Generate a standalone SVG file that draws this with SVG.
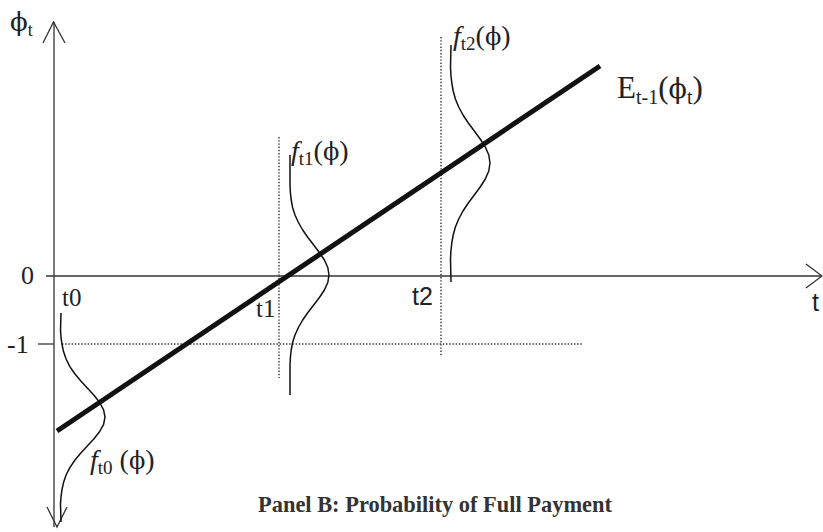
<svg xmlns="http://www.w3.org/2000/svg" width="823" height="532" viewBox="0 0 823 532">
<style>
.ax{stroke:#333;stroke-width:1.3;fill:none}
.dot{stroke:#333;stroke-width:1.4;stroke-dasharray:1.4 1.8;fill:none}
.bell{stroke:#111;stroke-width:1.5;fill:none;stroke-linejoin:round}
.lbl{font-family:"Liberation Serif","DejaVu Serif",serif;fill:#222}
.sans{font-family:"Liberation Sans",Arial,sans-serif;fill:#222}
.phi{font-family:"DejaVu Serif",serif}
</style>
<rect width="823" height="532" fill="#fff"/>
<g id="axes">
<path class="ax" d="M54,22 V527"/>
<path class="ax" d="M43,43 L53.5,22 L65,43"/>
<path class="ax" d="M47,507 L57,527 L67,507"/>
<path class="ax" d="M46,276 H821"/>
<path class="ax" d="M806,264 L822,276 L806,288"/>
<path class="ax" d="M38,344 H54"/>
</g>
<g id="guides">
<path class="dot" d="M62,344 H582"/>
<path class="dot" d="M279,137 V378"/>
<path class="dot" d="M441,37 V357"/>
</g>
<g id="expectation">
<path d="M57,431 L600,66" stroke="#111" stroke-width="5" fill="none"/>
<text class="lbl" x="617" y="98" font-size="31">E<tspan font-size="20" dy="6">t-1</tspan><tspan dy="-6">(</tspan><tspan class="phi" font-size="27">ϕ</tspan><tspan font-size="20" dy="6">t</tspan><tspan dy="-6">)</tspan></text>
</g>
<g id="density-t0">
<path class="bell" d="M61,313 L60.5,330 L61,337.3 L62,344.5 L63.6,351.8 L66.1,359 L69.7,366.3 L74.6,373.5 L80.6,380.8 L87.3,388 L94,395.3 L99.7,402.5 L103.6,409.8 L105,417 L103.6,424.3 L99.7,431.5 L94,438.8 L87.3,446 L80.6,453.3 L74.6,460.5 L69.7,467.8 L66.1,475 L63.6,482.3 L62,489.5 L61,496.8 L60.5,504 L61,522"/>
<text class="lbl" x="90" y="469" font-size="28"><tspan font-style="italic">f</tspan><tspan font-size="19" dy="5">t0</tspan><tspan dy="-5"> (</tspan><tspan class="phi" font-size="24">ϕ</tspan><tspan>)</tspan></text>
</g>
<g id="density-t1">
<path class="bell" d="M290,155 L290,185 L290.4,192.5 L291.2,200 L292.6,207.5 L295,215 L298.4,222.5 L302.7,230 L307.9,237.5 L313.7,245 L319.4,252.5 L324.4,260 L327.8,267.5 L329,275 L327.8,282.5 L324.4,290 L319.4,297.5 L313.7,305 L307.9,312.5 L302.7,320 L298.4,327.5 L295,335 L292.6,342.5 L291.2,350 L290.4,357.5 L290,365 L290,395"/>
<text class="lbl" x="291" y="160" font-size="28"><tspan font-style="italic">f</tspan><tspan font-size="19" dy="5">t1</tspan><tspan dy="-5">(</tspan><tspan class="phi" font-size="24">ϕ</tspan><tspan>)</tspan></text>
</g>
<g id="density-t2">
<path class="bell" d="M451,45 L450.5,67 L450.9,75 L451.8,83 L453.2,91 L455.4,99 L458.7,107 L463,115 L468.3,123 L474.3,131 L480.2,139 L485.3,147 L488.8,155 L490,163 L488.8,171 L485.3,179 L480.2,187 L474.3,195 L468.3,203 L463,211 L458.7,219 L455.4,227 L453.2,235 L451.8,243 L450.9,251 L450.5,259 L451,282"/>
<text class="lbl" x="453" y="45" font-size="28"><tspan font-style="italic">f</tspan><tspan font-size="19" dy="5">t2</tspan><tspan dy="-5">(</tspan><tspan class="phi" font-size="24">ϕ</tspan><tspan>)</tspan></text>
</g>
<g id="labels">
<text class="lbl" x="10" y="31" font-size="26"><tspan class="phi">ϕ</tspan><tspan font-size="18" dy="5">t</tspan></text>
<text class="lbl" x="21" y="284" font-size="26">0</text>
<text class="lbl" x="7" y="353" font-size="26">-1</text>
<text class="lbl" x="62" y="306" font-size="25">t0</text>
<text class="lbl" x="256" y="317" font-size="25">t1</text>
<text class="sans" x="412" y="305" font-size="25">t2</text>
<text class="sans" x="812" y="311" font-size="25">t</text>
<text x="258" y="512" font-size="24" font-weight="bold" textLength="354" lengthAdjust="spacingAndGlyphs" style="font-family:'Liberation Serif','DejaVu Serif',serif;fill:#333">Panel B: Probability of Full Payment</text>
</g>
</svg>
